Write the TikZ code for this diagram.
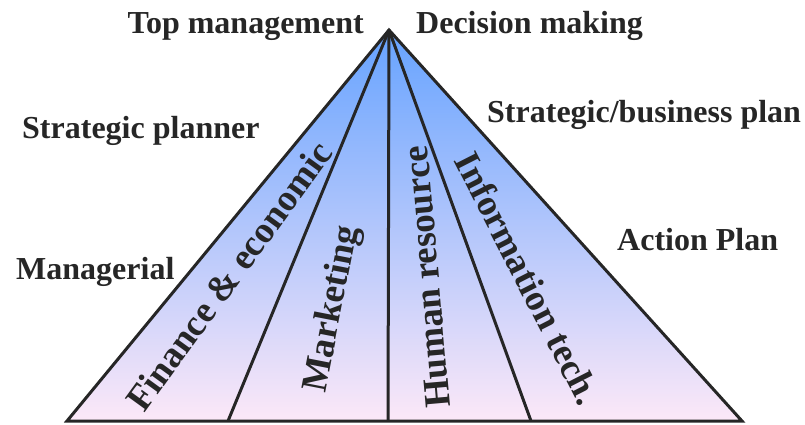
\documentclass[tikz,border=0pt]{standalone}
\usepackage{fontspec}
\setmainfont{Liberation Serif}
\usepackage{tikz}
\usetikzlibrary{positioning}

\definecolor{ink}{HTML}{262626}
\definecolor{skytop}{HTML}{66A3FF}
\definecolor{skymid}{HTML}{A3CBF2}
\definecolor{pinkbot}{HTML}{FCE8F8}

\tikzset{
  lab/.style={inner sep=0pt, text=ink, font=\bfseries\fontsize{32}{36}\selectfont},
  bar/.style={inner sep=0pt, text=ink, font=\bfseries\fontsize{37}{40}\selectfont},
  edge/.style={draw=ink, line width=3pt, line join=miter}
}

\begin{document}
\begin{tikzpicture}[x=1pt,y=-1pt]
  \useasboundingbox (0,0) rectangle (805,424);

  % corners of the pyramid
  \coordinate (apex) at (389,30);
  \coordinate (bl) at (67,421);
  \coordinate (b1) at (228,421);
  \coordinate (b2) at (388,421);
  \coordinate (b3) at (531,421);
  \coordinate (br) at (742,421);

  % shaded body
  \shade[top color=skytop, middle color=skymid, bottom color=pinkbot]
    (apex) -- (bl) -- (br) -- cycle;

  % divisions
  \foreach \b in {b1,b2,b3} \draw[edge] (apex) -- (\b);
  \draw[edge] (apex) -- (bl) -- (br) -- cycle;

  % side labels
  \node[lab, anchor=base east] (top) at (364,33) {Top management};
  \node[lab, anchor=base west] (dec) at (416,33) {Decision making};
  \node[lab, anchor=base west] (spl) at (22,138) {Strategic planner};
  \node[lab, anchor=base west] (sbp) at (487,122) {Strategic/business plan};
  \node[lab, anchor=base west] (mgr) at (16,279) {Managerial};
  \node[lab, anchor=base west] (act) at (617,250) {Action Plan};

  % labels along the bars
  \node[bar, rotate=54] (fin) at (229,276) {Finance \& economic};
  \node[bar, rotate=79] (mkt) at (333,309) {Marketing};
  \node[bar, rotate=95] (hum) at (427,277) {Human resource};
  \node[bar, rotate=-63] (inf) at (528,278) {Information tech.};
\end{tikzpicture}
\end{document}
